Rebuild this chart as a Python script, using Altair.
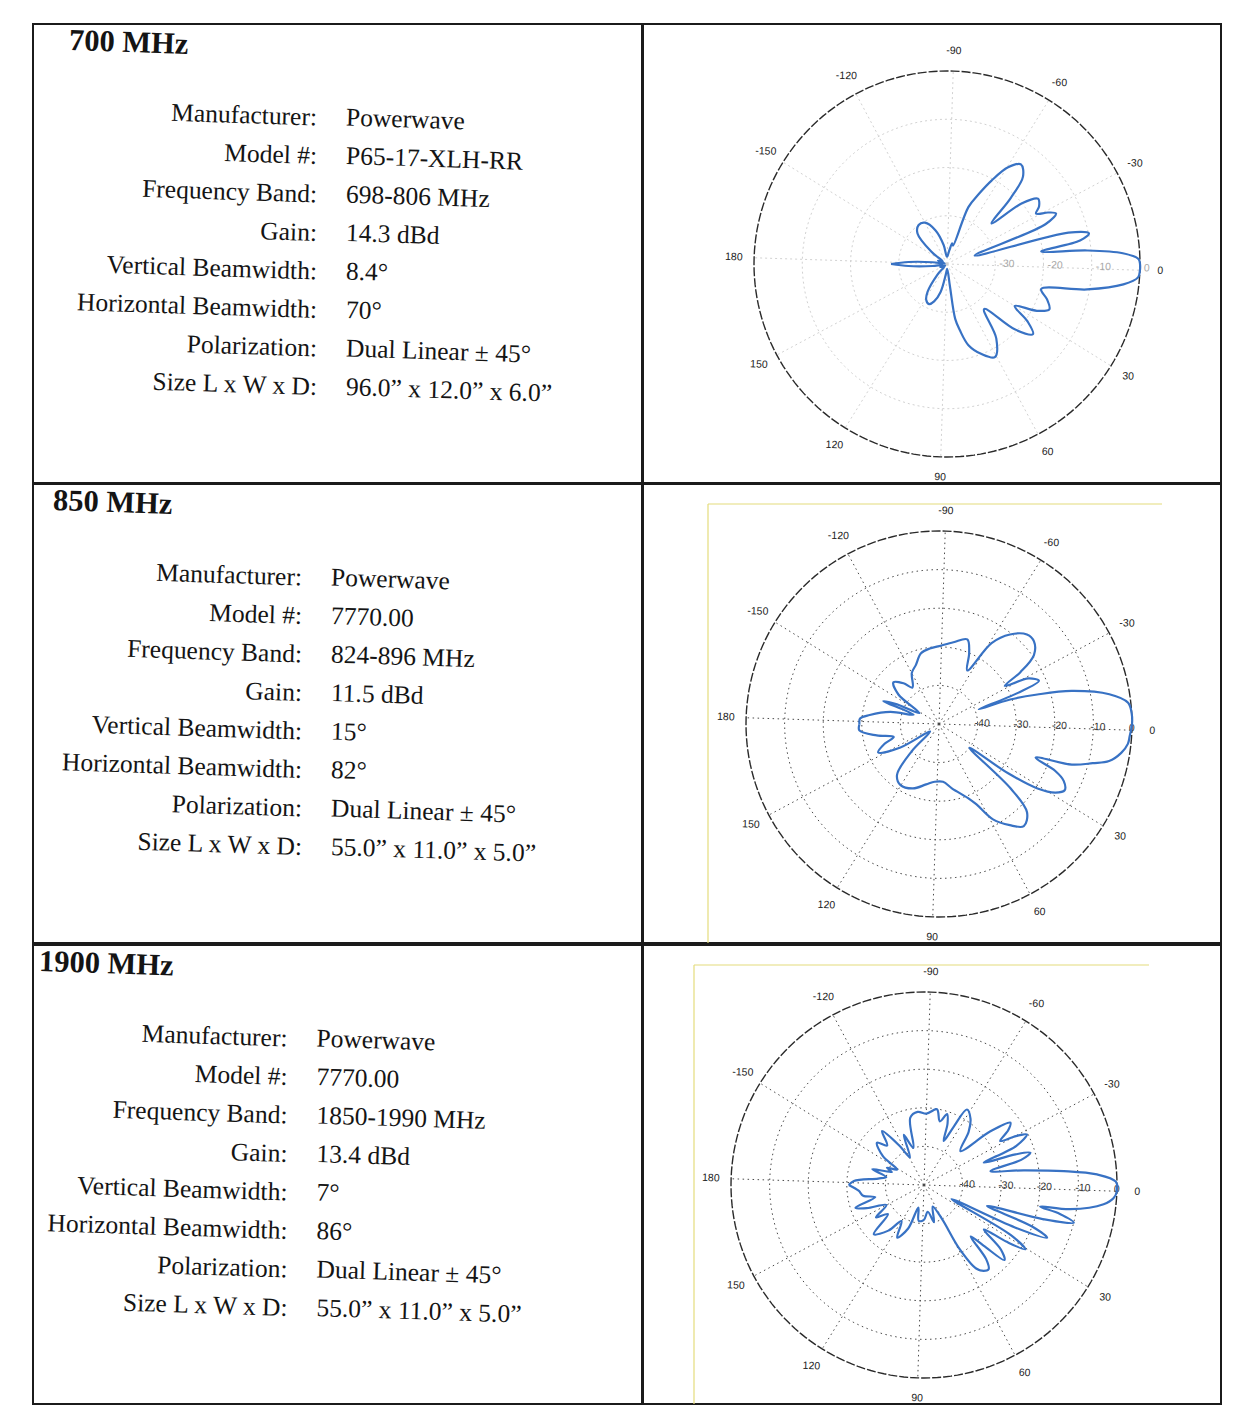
import math
import altair as alt
import pandas as pd

# ---------------- text content ----------------
TITLES = ["700 MHz", "850 MHz", "1900 MHz"]
FIELDS = ["Manufacturer:", "Model #:", "Frequency Band:", "Gain:",
          "Vertical Beamwidth:", "Horizontal Beamwidth:", "Polarization:",
          "Size L x W x D:"]
VALUES_700 = ["Powerwave", "P65-17-XLH-RR", "698-806 MHz", "14.3 dBd", "8.4\u00b0",
              "70\u00b0", "Dual Linear \u00b1 45\u00b0",
              "96.0\u201d x 12.0\u201d x 6.0\u201d"]
VALUES_850 = ["Powerwave", "7770.00", "824-896 MHz", "11.5 dBd", "15\u00b0",
              "82\u00b0", "Dual Linear \u00b1 45\u00b0",
              "55.0\u201d x 11.0\u201d x 5.0\u201d"]
VALUES_1900 = ["Powerwave", "7770.00", "1850-1990 MHz", "13.4 dBd", "7\u00b0",
               "86\u00b0", "Dual Linear \u00b1 45\u00b0",
               "55.0\u201d x 11.0\u201d x 5.0\u201d"]

# ---------------- polar axes ----------------
ANGLE_TICKS = [0, 30, 60, 90, 120, 150, 180, -150, -120, -90, -60, -30]
RINGS_700 = [-30, -20, -10, 0]
RINGS_850 = [-40, -30, -20, -10, 0]
RINGS_1900 = [-40, -30, -20, -10, 0]
RMIN_700 = -40
RMIN_850 = -50
RMIN_1900 = -50

# ---------------- radiation patterns (angle deg, level dB) ----------------
ANG_700 = [-180, -177, -173, -168, -160, -150, -142, -134, -126, -118, -109, -100,
           -90, -80, -76, -72, -69.4, -65.5, -61.9, -57.7, -53.4, -49, -46, -42.3,
           -39, -35.7, -32, -29.5, -27, -24.9, -22, -17, -14.5, -12.2, -10, -7.6,
           -5.5, -3.5, -1.5, 0, 2, 4, 6.6, 10.3, 14.9, 19.5, 23.9, 27.5, 31.8,
           35.5, 39.2, 44, 50.5, 56.5, 62.8, 69, 75.2, 79, 81.5, 82.5, 88, 96,
           103, 109, 114, 120, 125, 132, 142, 155, 165, 172, 177, 180]
DB_700 = [-28.4, -32, -37, -39.5, -38, -39, -36, -31.2, -30, -30.3, -32.6, -36,
          -38.5, -37, -35.6, -36, -27.4, -24, -20.4, -16.3, -14.3, -16, -21, -27.5,
          -20, -16.8, -17.5, -18.8, -16.5, -15.1, -18, -34, -14, -9.9, -12, -20.3,
          -10.8, -3.5, -0.3, 0, 0, -0.3, -3.2, -10.5, -19.8, -18, -16.8, -19, -23.5,
          -19.5, -17, -20.5, -27.9, -21.5, -18.3, -20, -22.6, -26, -28.5, -35.4, -39, -38,
          -34, -31.8, -30.9, -31.4, -33, -37, -39.5, -38.5, -39, -37, -32, -28.4]

ANG_850 = [-180, -176, -172.6, -166, -160, -157.7, -155, -151, -144, -137.5, -131,
           -126, -118, -111.5, -104.3, -97, -90.6, -80, -71.5, -67, -62.2, -57,
           -51.6, -45.5, -41, -36, -32.5, -30.1, -27, -23.4, -21.5, -20.3, -19,
           -16.7, -14, -9.9, -6.4, -3, 0, 3.7, 6, 9, 12.3, 14.3, 17, 19.2, 22,
           24.5, 27.8, 30.5, 33.2, 35.5, 38, 42, 45.1, 50.3, 55, 60.5, 65, 68.1,
           78.7, 86, 94.3, 102, 112, 122.2, 129.5, 135, 140, 148.7, 154.9, 160,
           163.9, 169.6, 175.4, 180]
DB_850 = [-29.4, -29.5, -31.9, -37, -43, -34.4, -38, -44.2, -37, -34, -36,
          -38.3, -35, -33.6, -31.1, -30.3, -29.9, -28.5, -26.9, -30, -34.3, -25,
          -20.4, -17.5, -17.4, -19.6, -25, -30.3, -24, -21.8, -28, -39, -30.5,
          -23.4, -14.6, -5.2, -0.7, 0, 0, -0.5, -0.8, -2.2, -4.9, -8.9, -14, -23.5, -17.5,
          -14.5, -13.2, -15, -19.5, -28, -40, -25, -17.7, -15.6, -18, -21.6, -27, -29.1,
          -33, -35, -35, -34, -32, -31.3, -32.9, -40, -47, -38.3, -32.6, -35,
          -37.8, -33.6, -29.3, -29.4]

ANG_1900 = [-180, -176.7, -172, -168, -163, -158, -155, -150, -145, -138, -133,
            -127.9, -122, -117, -112, -106, -101.5, -95, -88, -80.3, -76, -72,
            -69, -65.9, -63, -60.4, -55, -50, -43, -39, -35.8, -33, -30, -28,
            -26.2, -23, -20.5, -18.5, -16.9, -14.5, -11.9, -8.4, -5.7, -3.5, -1,
            1.8, 4, 6.1, 9.4, 10.5, 12, 14.1, 16, 18.4, 21, 23.2, 25, 27, 30, 32.4,
            34.5, 36.6, 40, 43, 45.5, 47.8, 50, 52.5, 55.2, 58, 61, 62, 68, 75, 82,
            90, 98.4, 104, 110, 117, 122, 128, 135.6, 141, 146, 152, 158, 161.7,
            166, 170, 175, 180]
DB_1900 = [-30.5, -31.8, -38, -40, -36, -41, -39.4, -42, -37, -33.6, -36,
           -32.3, -38, -42, -36, -40, -32.2, -31, -31.5, -30.1, -33, -30.7,
           -33, -37.5, -33, -27.5, -29, -32, -37.1, -28, -22.4, -24, -27.2, -23,
           -20.3, -24, -33.5, -25, -21.2, -24, -32.4, -23.9, -13.6, -5.1, -0.3,
           0, -0.8, -3.2, -11.6, -19.4, -14, -10, -18, -32.8, -20, -15.3, -24, -42, -24, -18.9,
           -24, -30.7, -24, -21.5, -28, -32, -25, -22.5, -22.9, -24.5, -31.4, -40, -44, -40, -43,
           -41, -40.6, -44, -38, -34.7, -39, -35, -31.8, -38, -35, -39, -34, -31.3,
           -37, -34, -33, -30.5]

# ---------------- layout (scanned page is slightly rotated) ----------------
W_TEXT = 609
W_POLAR = 578
H_ROW = 459
R = 193
CY = 240
CX_ROWS = [304, 296, 281]          # polar centre per row
TEXT_DX = [18, 3, -11.5]           # text drift per row (scan skew)
TITLE_DX = [21, 5, -9]
FRAME = [None, (65, 20, 519), (51, 20, 506)]   # yellow image frame of scanned figure
SKEW = 1.85
BLUE = "#3872c4"
SERIF = "Liberation Serif"
SANS = "Liberation Sans"
INK = "#141414"
GAP = -2


def text_panel(row, title, values):
    df = pd.DataFrame({"i": list(range(len(FIELDS))), "field": FIELDS, "value": values})
    first, step = 93.5, 38.5
    ysc = alt.Scale(domain=[-first / step, (H_ROW - first) / step], reverse=True,
                    nice=False, zero=False)
    base = alt.Chart(df).encode(y=alt.Y("i:Q", scale=ysc, axis=None))
    labels = base.mark_text(align="right", baseline="middle", font=SERIF,
                            fontSize=25.5, color=INK, angle=SKEW).encode(
        x=alt.value(266 + TEXT_DX[row]), text="field:N")
    vals = base.mark_text(align="left", baseline="middle", font=SERIF,
                          fontSize=25.5, color=INK, angle=SKEW).encode(
        x=alt.value(295 + TEXT_DX[row]), text="value:N")
    ttl = alt.Chart(pd.DataFrame({"t": [title]})).mark_text(
        align="left", baseline="middle", font=SERIF, fontSize=30.5,
        fontWeight="bold", color=INK, angle=SKEW).encode(
        x=alt.value(15 + TITLE_DX[row]), y=alt.value(17), text="t:N")
    return alt.layer(labels, vals, ttl).properties(width=W_TEXT, height=H_ROW)


def polar_panel(row, ang, db, rings, rmin, faint):
    cx = CX_ROWS[row]
    xsc = alt.Scale(domain=[-cx / R, (W_POLAR - cx) / R], nice=False, zero=False)
    ysc = alt.Scale(domain=[-CY / R, (H_ROW - CY) / R], reverse=True,
                    nice=False, zero=False)

    def XY(xf, yf):
        return dict(x=alt.X(xf, type="quantitative", scale=xsc, axis=None),
                    y=alt.Y(yf, type="quantitative", scale=ysc, axis=None))

    grid_col = "#d2d2d2" if faint else "#4a4a4a"
    grid_dash = [2, 3] if faint else [1.5, 3.5]
    rad = "datum.a * PI / 180"
    grad = f"(datum.a + {SKEW}) * PI / 180"

    inner = [r for r in rings if r != 0]
    ring_rows = [{"ring": rv, "a": t} for rv in inner for t in range(0, 361, 3)]
    ring_layer = alt.Chart(pd.DataFrame(ring_rows)).transform_calculate(
        rr=f"(datum.ring - ({rmin})) / ({-rmin})"
    ).transform_calculate(
        px=f"datum.rr * cos({rad})", py=f"datum.rr * sin({rad})"
    ).mark_line(color=grid_col, strokeDash=grid_dash, strokeWidth=1).encode(
        detail="ring:N", order="a:Q", **XY("px", "py"))

    outer_rows = [{"a": t} for t in range(0, 361, 2)]
    outer_layer = alt.Chart(pd.DataFrame(outer_rows)).transform_calculate(
        px=f"cos({rad})", py=f"sin({rad})"
    ).mark_line(color="#2a2a2a", strokeDash=[9, 2], strokeWidth=1.4).encode(
        order="a:Q", **XY("px", "py"))

    spoke_layer = alt.Chart(pd.DataFrame({"a": ANGLE_TICKS})).transform_calculate(
        x0="0", y0="0", px=f"cos({grad})", py=f"sin({grad})"
    ).mark_rule(color=grid_col, strokeDash=grid_dash, strokeWidth=1).encode(
        x=alt.X("x0:Q", scale=xsc, axis=None), y=alt.Y("y0:Q", scale=ysc, axis=None),
        x2="px:Q", y2="py:Q")

    alab = alt.Chart(pd.DataFrame({"a": ANGLE_TICKS,
                                   "t": [str(a) for a in ANGLE_TICKS]})).transform_calculate(
        px=f"1.105 * cos({grad})", py=f"1.105 * sin({grad})"
    ).mark_text(font=SANS, fontSize=10.5, color="#222", baseline="middle",
                align="center", angle=SKEW).encode(text="t:N", **XY("px", "py"))

    rlab = alt.Chart(pd.DataFrame({"ring": rings,
                                   "t": [str(r) for r in rings]})).transform_calculate(
        rr=f"(datum.ring - ({rmin})) / ({-rmin})"
    ).transform_calculate(
        px=f"datum.rr * cos({SKEW} * PI / 180)", py=f"datum.rr * sin({SKEW} * PI / 180)"
    ).mark_text(font=SANS, fontSize=10.5, color=("#a8a8a8" if faint else "#333"),
                baseline="middle", align="left", dx=(4 if faint else -3), dy=-2,
                angle=SKEW).encode(text="t:N", **XY("px", "py"))

    pat = alt.Chart(pd.DataFrame({"k": list(range(len(ang))), "a": ang, "db": db})
                    ).transform_calculate(
        rr=f"max(0, (datum.db - ({rmin})) / ({-rmin}))"
    ).transform_calculate(
        px=f"datum.rr * cos({rad})", py=f"datum.rr * sin({rad})"
    ).mark_line(color=BLUE, strokeWidth=2.2, interpolate="catmull-rom").encode(
        order="k:Q", **XY("px", "py"))

    layers = [ring_layer, spoke_layer, outer_layer, alab, rlab, pat]
    if FRAME[row] is not None:
        fx, fy, fx2 = FRAME[row]
        ylw = "#e4dc7c"
        vline = alt.Chart(pd.DataFrame({"f": [0]})).mark_rule(
            color=ylw, strokeWidth=1.2).encode(
            x=alt.value(fx), y=alt.value(fy), y2=alt.value(H_ROW))
        hline = alt.Chart(pd.DataFrame({"f": [0]})).mark_rule(
            color=ylw, strokeWidth=1.2).encode(
            x=alt.value(fx), x2=alt.value(fx2), y=alt.value(fy))
        layers = [vline, hline] + layers
    return alt.layer(*layers).properties(width=W_POLAR, height=H_ROW)


SPECS = [
    (VALUES_700, ANG_700, DB_700, RINGS_700, RMIN_700, True),
    (VALUES_850, ANG_850, DB_850, RINGS_850, RMIN_850, False),
    (VALUES_1900, ANG_1900, DB_1900, RINGS_1900, RMIN_1900, False),
]

rows = []
for r, (vals, ang, db, rings, rmin, faint) in enumerate(SPECS):
    rows.append(alt.hconcat(text_panel(r, TITLES[r], vals),
                            polar_panel(r, ang, db, rings, rmin, faint),
                            spacing=GAP))

chart = alt.vconcat(*rows, spacing=GAP).properties(
    padding={"left": 24, "top": 15, "right": 4, "bottom": 4},
    background="white",
).configure_view(stroke="#1b1b1b", strokeWidth=2)

chart.save("out.html", embed_options={"renderer": "svg", "actions": False})
